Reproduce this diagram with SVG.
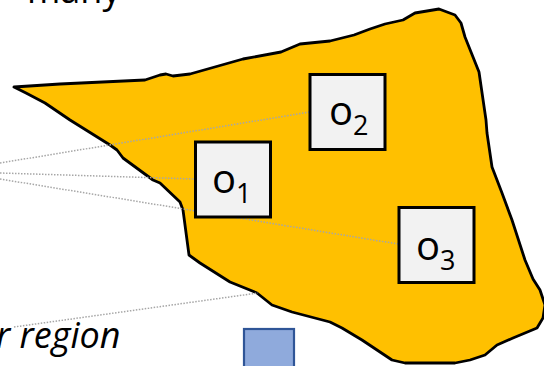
<svg xmlns="http://www.w3.org/2000/svg" width="544" height="366" viewBox="0 0 544 366">
<style>
.region{fill:#ffc000;stroke:#000;stroke-width:2.8;stroke-linejoin:round}
.box{fill:#f2f2f2;stroke:#000;stroke-width:3}
.lbl{font-family:"Open Sans","Liberation Sans",sans-serif;font-size:40px;fill:#000}
.sub{font-size:27px}
.dot{fill:none;stroke:#a6a6a6;stroke-width:1.5;stroke-dasharray:1.5 1.5}
.cap{font-family:"Open Sans","Liberation Sans",sans-serif;font-size:36px;fill:#000}
</style>
<rect width="544" height="366" fill="#fff"/>
<g id="region">
<path class="region" d="M14,87 L60,84 L145,80 L160,75 L166,74 L173,76 L190,74 L243,59 L281,52 L300,44 L330,41 L354,35 L370,29 L385,24 L403,20 L415,13 L439,9 L455,15 L461,23 L465,37 L479,72 L486,120 L487,133 L492,167 L502,193 L512,220 L525,260 L533,279 L540,290 L545,305 L543,318 L537,328 L513,338 L497,345 L485,355 L470,360 L455,363 L405,363 L392,360 L362,340 L342,328 L330,322 L292,312 L272,305 L257,293 L230,282 L200,263 L189,255 L183,210 L180,202 L160,183 L153,180 L123,158 L117,150 L110,145 L70,120 L45,103 L26,93 Z"/>
</g>
<g id="connectors">
<line class="dot" x1="0" y1="163" x2="310" y2="112"/>
<line class="dot" x1="0" y1="173" x2="195" y2="179"/>
<line class="dot" x1="0" y1="179" x2="398" y2="244"/>
<line class="dot" x1="14" y1="327" x2="258" y2="293"/>
</g>
<g id="o1">
<rect class="box" x="195.5" y="142" width="75" height="75"/>
<text class="lbl" x="212" y="193">o<tspan class="sub" dy="10">1</tspan></text>
</g>
<g id="o2">
<rect class="box" x="310" y="74.5" width="75" height="75"/>
<text class="lbl" x="329" y="125">o<tspan class="sub" dy="10">2</tspan></text>
</g>
<g id="o3">
<rect class="box" x="399" y="207.5" width="75" height="75"/>
<text class="lbl" x="416" y="260">o<tspan class="sub" dy="10">3</tspan></text>
</g>
<g id="blue">
<rect x="244" y="329" width="50" height="50" fill="#8faadc" stroke="#2f5597" stroke-width="2.2"/>
</g>
<g id="labels">
<text class="cap" x="27" y="3">many</text>
<text class="cap" x="-4" y="348" font-size="38" font-style="italic">r region</text>
</g>
</svg>
